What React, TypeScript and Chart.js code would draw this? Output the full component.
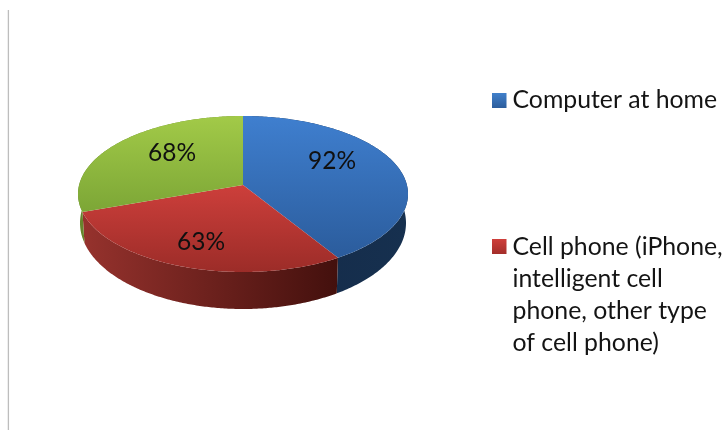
import React, { useEffect, useRef } from "react";
import { Chart, registerables } from "chart.js";

Chart.register(...registerables);

const categories = [
  "Computer at home",
  "Cell phone (iPhone, intelligent cell phone, other type of cell phone)",
  "",
];
const seriesValues = [92, 63, 68];
const legendLines = [
  ["Computer at home"],
  ["Cell phone (iPhone,", "intelligent cell", "phone, other type", "of cell phone)"],
];

const FONT = "Lato, Carlito, Calibri, sans-serif";
const faceColors = [
  ["#3f7fcf", "#2b5c9c"],
  ["#cd3f3b", "#9c2c28"],
  ["#a2ca48", "#7ca636"],
];
const sideColors = [
  ["#16304f", "#142a48"],
  ["#96322d", "#43100d"],
  ["#6f8f30", "#66852c"],
];
const legendSwatch = [
  ["#4180cb", "#2c5d9c"],
  ["#cf3f3b", "#a32e2a"],
];
// Projection of the flat pie onto the tilted disc
const TOP = { ry: 78 / 165, t: -9 / 78 };
const BOTTOM = { rxScale: 163 / 165, dy: 29, ry: 86 / 165 };
const labelPos = [
  [332, 161],
  [201, 242],
  [172, 153],
];
const legendPos = [
  { sw: 93, first: 100 },
  { sw: 239, first: 247 },
];

function project(angle: number) {
  const x = Math.cos(angle);
  const y = Math.sin(angle);
  const d = 1 + TOP.t * y;
  return { X: (x * Math.sqrt(1 - TOP.t * TOP.t)) / d, Y: (y + TOP.t) / d };
}

const pie3d = {
  id: "pie3d",
  beforeDatasetsDraw(chart: any) {
    const ctx: CanvasRenderingContext2D = chart.ctx;
    const arcs = chart.getDatasetMeta(0).data;
    ctx.save();

    // frame line at the left
    ctx.strokeStyle = "#bdbdbd";
    ctx.lineWidth = 1.3;
    ctx.beginPath();
    ctx.moveTo(8.4, 10);
    ctx.lineTo(8.4, 430);
    ctx.stroke();

    const samples = (el: any) => {
      const pts = [];
      for (let i = 0; i <= 180; i++) {
        pts.push(project(el.startAngle + ((el.endAngle - el.startAngle) * i) / 180));
      }
      return pts;
    };

    // sides
    arcs.forEach((el: any, i: number) => {
      const R = el.outerRadius;
      const pts = samples(el);
      const xs = pts.map((p) => el.x + p.X * R);
      const lo = Math.min(...xs);
      const hi = Math.max(...xs);
      const g = ctx.createLinearGradient(lo, 0, hi, 0);
      const fromLeft = i === 1;
      g.addColorStop(0, sideColors[i][fromLeft ? 0 : 1]);
      g.addColorStop(1, sideColors[i][fromLeft ? 1 : 0]);
      ctx.fillStyle = g;
      ctx.beginPath();
      pts.forEach((p, k) => {
        const px = el.x + p.X * R;
        const py = el.y + p.Y * R * TOP.ry;
        if (k === 0) ctx.moveTo(px, py);
        else ctx.lineTo(px, py);
      });
      for (let k = pts.length - 1; k >= 0; k--) {
        const p = pts[k];
        ctx.lineTo(el.x + p.X * R * BOTTOM.rxScale, el.y + BOTTOM.dy + p.Y * R * BOTTOM.ry);
      }
      ctx.closePath();
      ctx.fill();
    });

    // top faces
    arcs.forEach((el: any, i: number) => {
      const R = el.outerRadius;
      const pts = samples(el);
      const apexY = el.y + TOP.t * R * TOP.ry;
      const ys = pts.map((p) => el.y + p.Y * R * TOP.ry).concat(apexY);
      const g = ctx.createLinearGradient(0, Math.min(...ys), 0, Math.max(...ys));
      g.addColorStop(0, faceColors[i][0]);
      g.addColorStop(1, faceColors[i][1]);
      ctx.fillStyle = g;
      ctx.beginPath();
      ctx.moveTo(el.x, apexY);
      pts.forEach((p) => ctx.lineTo(el.x + p.X * R, el.y + p.Y * R * TOP.ry));
      ctx.closePath();
      ctx.fill();
    });

    // value labels
    ctx.fillStyle = "#101010";
    ctx.font = `24.5px ${FONT}`;
    ctx.textAlign = "center";
    ctx.textBaseline = "middle";
    seriesValues.forEach((v, i) => {
      ctx.fillText(`${v}%`, labelPos[i][0], labelPos[i][1]);
    });

    // legend
    ctx.textAlign = "left";
    ctx.font = `24.8px ${FONT}`;
    legendLines.forEach((lines, i) => {
      const pos = legendPos[i];
      const g = ctx.createLinearGradient(0, pos.sw, 0, pos.sw + 15);
      g.addColorStop(0, legendSwatch[i][0]);
      g.addColorStop(1, legendSwatch[i][1]);
      ctx.fillStyle = g;
      ctx.fillRect(492, pos.sw, 14.5, 15);
      ctx.fillStyle = "#141414";
      lines.forEach((line, k) => {
        ctx.fillText(line, 512.5, pos.first + k * 32);
      });
    });

    ctx.restore();
    return false;
  },
};

export default function App() {
  const ref = useRef<HTMLCanvasElement | null>(null);
  useEffect(() => {
    document.body.style.margin = "0";
    document.body.style.background = "#ffffff";
    const chart = new Chart(ref.current as HTMLCanvasElement, {
      type: "pie",
      data: {
        labels: categories,
        datasets: [{ data: seriesValues, backgroundColor: faceColors.map((c) => c[0]), borderWidth: 0 }],
      },
      options: {
        responsive: false,
        animation: false,
        layout: { padding: { left: 78, right: 316, top: 29, bottom: 71 } },
        plugins: { legend: { display: false }, tooltip: { enabled: false } },
      },
      plugins: [pie3d],
    } as any);
    return () => chart.destroy();
  }, []);
  return (
    <canvas
      ref={ref}
      width={724}
      height={430}
      style={{ display: "block", width: 724, height: 430, filter: "blur(0.5px)" }}
    />
  );
}
